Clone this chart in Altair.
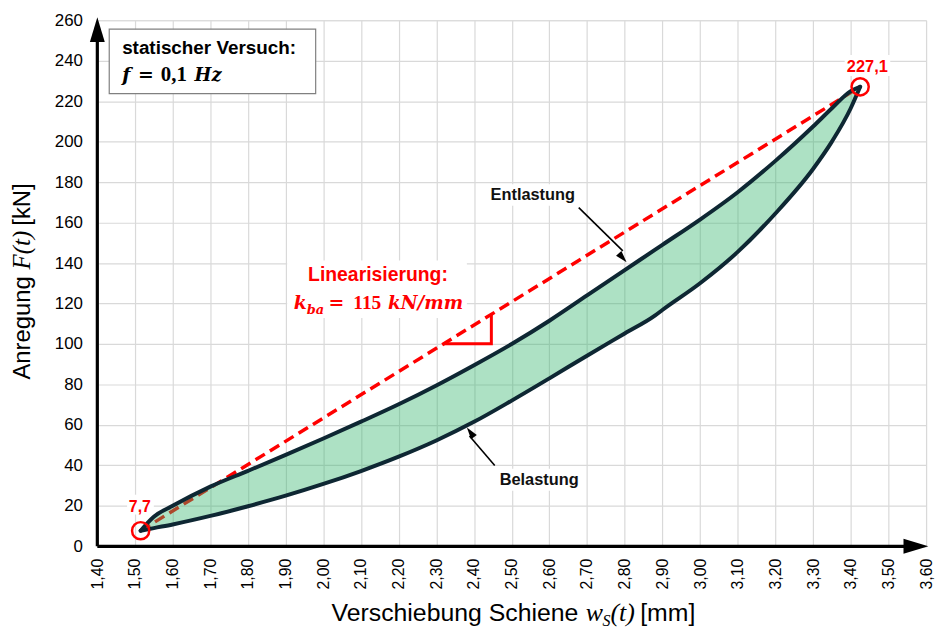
import altair as alt
import pandas as pd

# ---------------- data ----------------
x_mm = [1.515, 1.55, 1.60, 1.70, 1.80, 1.90, 2.00, 2.10, 2.20, 2.30, 2.40, 2.50,
        2.60, 2.70, 2.80, 2.88, 2.90, 3.00, 3.10, 3.20, 3.30, 3.35, 3.40, 3.425]
belastung = [7.7, 9.0, 10.8, 15.0, 19.8, 25.0, 30.8, 37.2, 44.3, 52.3, 61.5, 72.0,
             83.0, 94.2, 105.2, 114.0, 116.8, 130.0, 145.5, 164.5, 186.5, 200.0, 216.5, 227.1]
entlastung = [7.7, 14.6, 20.0, 29.5, 37.3, 45.2, 53.3, 61.6, 70.2, 79.5, 89.5, 100.0,
              111.5, 124.0, 136.5, 146.5, 149.0, 161.5, 175.0, 190.5, 207.5, 216.5, 225.0, 227.1]
lin_x = [1.515, 3.425]
lin_F = [7.7, 227.1]
tri_x = [2.319, 2.446, 2.446]
tri_F = [100.1, 100.1, 114.6]
end_x = [1.515, 3.425]
end_F = [7.7, 227.1]
end_lbl = ["7,7", "227,1"]
x_ticks = [1.40, 1.50, 1.60, 1.70, 1.80, 1.90, 2.00, 2.10, 2.20, 2.30, 2.40, 2.50,
           2.60, 2.70, 2.80, 2.90, 3.00, 3.10, 3.20, 3.30, 3.40, 3.50, 3.60]
y_ticks = [0, 20, 40, 60, 80, 100, 120, 140, 160, 180, 200, 220, 240, 260]

# ---------------- styles ----------------
RED = "#ff0000"
OUT = "#0e2733"
SANS = "Liberation Sans"
SERIF = "Liberation Serif"
MATH = "DejaVu Serif"
ARROW = "M0,0L0.6,2L-0.6,2Z"

XS = alt.Scale(domain=[1.4, 3.6], nice=False, zero=False)
YS = alt.Scale(domain=[0, 260], nice=False, zero=False)

x_axis = alt.Axis(values=x_ticks, labelExpr="replace(format(datum.value, '.2f'), '.', ',')",
                  labelAngle=270, labelAlign="right", labelBaseline="middle",
                  labelFontSize=16, labelFont=SANS, labelColor="black", labelPadding=12,
                  labelFlush=False, labelOverlap=False, ticks=False, domain=False,
                  grid=True, gridColor="#d9d9d9", gridWidth=1.2, title=None)
y_axis = alt.Axis(values=y_ticks, labelFontSize=17, labelFont=SANS, labelColor="black",
                  labelPadding=15, labelFlush=False, labelOverlap=False, ticks=False,
                  domain=False, grid=True, gridColor="#d9d9d9", gridWidth=1.2, title=None)


def X(f):
    return alt.X(f, type="quantitative", scale=XS, axis=x_axis)


def Y(f):
    return alt.Y(f, type="quantitative", scale=YS, axis=y_axis)


ONE = pd.DataFrame({"a": [0]})


def pt(x, y):
    return pd.DataFrame({"x": [x], "y": [y]})


def dtext(text, x, y, **kw):
    return alt.Chart(pt(x, y)).mark_text(text=text, **kw).encode(x=X("x"), y=Y("y"))


def ptext(text, x, y, **kw):
    params = dict(align="left", baseline="alphabetic")
    params.update(kw)
    return alt.Chart(ONE).mark_text(text=text, **params).encode(
        x=alt.value(x), y=alt.value(y))


def bg(x1, x2, y1, y2):
    return alt.Chart(pd.DataFrame({"x": [x1], "x2": [x2], "y": [y1], "y2": [y2]})).mark_rect(
        fill="white").encode(x=X("x"), x2="x2", y=Y("y"), y2="y2")


def seg(x1, y1, x2, y2, color="black", width=1.6):
    return alt.Chart(pd.DataFrame({"x": [x1], "x2": [x2], "y": [y1], "y2": [y2]})).mark_rule(
        color=color, strokeWidth=width).encode(x=X("x"), x2="x2", y=Y("y"), y2="y2")


def head(x, y, angle, size):
    return alt.Chart(pt(x, y)).mark_point(
        shape=ARROW, filled=True, color="black", opacity=1, size=size, angle=angle,
        strokeWidth=0).encode(x=X("x"), y=Y("y"))


loop_df = pd.DataFrame({"x": x_mm, "bel": belastung, "ent": entlastung})
lin_df = pd.DataFrame({"x": lin_x, "y": lin_F})
tri_df = pd.DataFrame({"x": tri_x, "y": tri_F, "o": [0, 1, 2]})
end_df = pd.DataFrame({"x": end_x, "y": end_F, "lbl": end_lbl})

layers = []

# white backgrounds of the text boxes
layers += [
    bg(1.904, 2.381, 141.3, 112.8),
    bg(2.429, 2.683, 179.0, 168.3),
    bg(2.455, 2.697, 38.3, 27.5),
    bg(1.479, 1.550, 25.5, 15.7),
    bg(3.384, 3.505, 242.8, 232.5),
]

# linearisation (dashed)
layers.append(alt.Chart(lin_df).mark_line(color=RED, strokeWidth=3.5, strokeDash=[11, 6]).encode(
    x=X("x"), y=Y("y")))

# hysteresis loop fill
layers.append(alt.Chart(loop_df).mark_area(color="#33b56b", opacity=0.4, interpolate="monotone").encode(
    x=X("x"), y=Y("ent"), y2="bel"))

# loop outlines
for col in ["ent", "bel"]:
    layers.append(alt.Chart(loop_df).mark_line(
        color=OUT, strokeWidth=4, interpolate="monotone", strokeCap="round",
        strokeJoin="round").encode(x=X("x"), y=Y(col)))

# slope triangle
layers.append(alt.Chart(tri_df).mark_line(color=RED, strokeWidth=3).encode(
    x=X("x"), y=Y("y"), order="o:Q"))

# end point circles and labels
layers.append(alt.Chart(end_df).mark_point(shape="circle", filled=False, color=RED, size=300,
                                           strokeWidth=2.5, opacity=1).encode(x=X("x"), y=Y("y")))
layers.append(dtext("7,7", 1.513, 17.0, font=SANS, fontSize=16, fontWeight="bold", color=RED,
                    align="center", baseline="alphabetic"))
layers.append(dtext("227,1", 3.444, 234.5, font=SANS, fontSize=16.5, fontWeight="bold", color=RED,
                    align="center", baseline="alphabetic"))

# axis arrows
layers.append(seg(1.40, 0, 1.40, 250.0, width=3.2))
layers.append(seg(1.40, 0, 3.545, 0, width=3.2))
layers.append(head(1.40, 261.5, 0, 625))
layers.append(head(3.606, 0, 90, 625))

# annotation arrows
layers.append(seg(2.678, 167.4, 2.795, 146.0, width=1.6))
layers.append(head(2.805, 140.4, 138.7, 144))
layers.append(seg(2.455, 39.9, 2.388, 54.5, width=1.6))
layers.append(head(2.381, 58.7, 323.6, 144))

layers.append(dtext("Entlastung", 2.556, 173.7, font=SANS, fontSize=16.5, fontWeight="bold",
                    color="#111111", align="center", baseline="middle"))
layers.append(dtext("Belastung", 2.573, 32.9, font=SANS, fontSize=16.5, fontWeight="bold",
                    color="#111111", align="center", baseline="middle"))

# linearisation label
layers.append(dtext("Linearisierung:", 2.145, 133.9, font=SANS, fontSize=19.5, fontWeight="bold",
                    color=RED, align="center", baseline="middle"))
kx, ky = 1.9215, 117.1
for txt, dx, dy, fnt, fs, st in [
    ("k", 0, 0, MATH, 19, "italic"),
    ("ba", 13, 5, MATH, 13, "italic"),
    ("=", 35, 0, MATH, 19, "normal"),
    ("115", 60, 0, SERIF, 19.5, "normal"),
    ("kN/mm", 95, 0, MATH, 18.5, "italic"),
]:
    layers.append(dtext(txt, kx, ky, font=fnt, fontSize=fs, fontStyle=st, fontWeight="bold",
                        color=RED, align="left", baseline="alphabetic", dx=dx, dy=dy))

# info box (top left)
layers.append(alt.Chart(ONE).mark_rect(fill="white", stroke="#808080", strokeWidth=1.2).encode(
    x=alt.value(12), x2=alt.value(220), y=alt.value(9), y2=alt.value(74)))
layers.append(ptext("statischer Versuch:", 25, 34, font=SANS, fontSize=19, fontWeight="bold",
                    color="black"))
for txt, px, fnt, fs, st in [
    ("f", 25, MATH, 19, "italic"),
    ("=", 41, MATH, 19, "normal"),
    ("0,1", 64, SERIF, 21, "normal"),
    ("Hz", 98, MATH, 18, "italic"),
]:
    layers.append(ptext(txt, px, 61, font=fnt, fontSize=fs, fontStyle=st, fontWeight="bold",
                        color="black"))

# axis titles (composed from plain and math-italic parts)
for txt, px, fnt, fs, st, dy in [
    ("Verschiebung Schiene", 236, SANS, 25, "normal", 0),
    ("w", 492, SERIF, 26, "italic", 0),
    ("S", 509, SERIF, 16, "italic", 5),
    ("(t)", 517, SERIF, 26, "italic", 0),
    ("[mm]", 547, SANS, 25, "normal", 0),
]:
    layers.append(ptext(txt, px, 605, font=fnt, fontSize=fs, fontStyle=st, color="black", dy=dy))

for txt, py, fnt, fs, st in [
    ("Anregung", 362, SANS, 24, "normal"),
    ("F(t)", 251, SERIF, 25, "italic"),
    ("[kN]", 207, SANS, 24, "normal"),
]:
    layers.append(ptext(txt, -68, py, font=fnt, fontSize=fs, fontStyle=st, color="black",
                        angle=270))

chart = alt.layer(*layers).properties(
    width=835, height=530,
    padding={"left": 90, "top": 10, "right": 9, "bottom": 84},
    autosize=alt.AutoSizeParams(type="none"),
).configure_view(stroke=None).configure(background="white")

chart.save("out.html", embed_options={"renderer": "svg", "actions": False})
